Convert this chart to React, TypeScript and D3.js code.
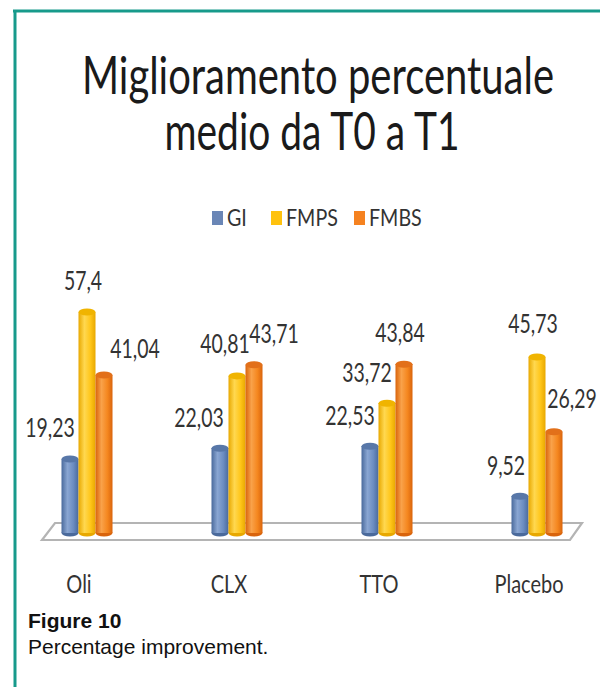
import React from 'react';
import * as d3 from 'd3';

const categories = ['Oli', 'CLX', 'TTO', 'Placebo'];
const series = ['GI', 'FMPS', 'FMBS'];
const giValues = [19.23, 22.03, 22.53, 9.52];
const fmpsValues = [57.4, 40.81, 33.72, 45.73];
const fmbsValues = [41.04, 43.71, 43.84, 26.29];
const valueLabels = [
  ['19,23', '22,03', '22,53', '9,52'],
  ['57,4', '40,81', '33,72', '45,73'],
  ['41,04', '43,71', '43,84', '26,29'],
];

// layout nudges for the value labels (manual placement in the original)
const labelDx = [
  [-20, -21, -20, -14],
  [-4, -12, -20, -4],
  [31, 20, -4, 18],
];
const labelDy = [
  [-22, -21, -21, -21],
  [-22, -23, -21, -24],
  [-17, -22, -22, -24],
];

const colors = {
  GI: { dark: '#4a6a9c', mid: '#6b8cc1', light: '#8aa6d2', top: '#5877a8', legend: '#6a86b6' },
  FMPS: { dark: '#e8a800', mid: '#ffc61a', light: '#ffd850', top: '#f0b400', legend: '#ffc20e' },
  FMBS: { dark: '#d9640c', mid: '#f5871f', light: '#f9a24a', top: '#e2701a', legend: '#f58220' },
};

const W = 600;
const H = 687;
const teal = '#179a8b';
const font = "Lato, 'Open Sans', sans-serif";

// text squeezed horizontally round its anchor (the original picture is squeezed sideways)
function SqText(props: { x: number; y: number; size: number; sx?: number; anchor?: string; children: React.ReactNode }) {
  const { x, y, size, sx = 0.75, anchor = 'middle', children } = props;
  return (
    <text
      transform={`translate(${x},${y}) scale(${sx},1)`}
      fontSize={size}
      textAnchor={anchor}
    >
      {children}
    </text>
  );
}

export default function App() {
  const values = [giValues, fmpsValues, fmbsValues];
  const baseY = 533;

  const x = d3.scaleBand<string>().domain(categories).range([12, 612]);
  const xs = d3.scaleBand<string>().domain(series).range([-25.5, 25.5]);
  const y = d3.scaleLinear().domain([0, 60]).range([baseY, baseY - 60 * 3.85]);

  const bw = xs.bandwidth();
  const ry = 3.5;
  const center = (c: string) => (x(c) ?? 0) + x.bandwidth() / 2;

  const floor = d3.line()([
    [55, 523],
    [582, 523],
    [570, 540],
    [42, 540],
  ]) + 'Z';

  const legendItems = [
    { s: 'GI', x: 212 },
    { s: 'FMPS', x: 271 },
    { s: 'FMBS', x: 354 },
  ];

  return (
    <div style={{ position: 'absolute', left: 0, top: 0 }}>
      <svg width={W} height={H} style={{ display: 'block', background: '#fff' }}>
        <defs>
          {series.map((s) => {
            const c = colors[s as keyof typeof colors];
            return (
              <linearGradient key={s} id={'grad-' + s} x1="0" x2="1" y1="0" y2="0">
                <stop offset="0%" stopColor={c.dark} />
                <stop offset="35%" stopColor={c.light} />
                <stop offset="70%" stopColor={c.mid} />
                <stop offset="100%" stopColor={c.dark} />
              </linearGradient>
            );
          })}
        </defs>

        {/* frame */}
        <line x1={13} x2={W} y1={11} y2={11} stroke={teal} strokeWidth={3} />
        <line x1={15} x2={15} y1={10} y2={H} stroke={teal} strokeWidth={3} />

        {/* title */}
        <g fontFamily={font} fill="#1a1a1a" textAnchor="middle">
          <text x={318} y={94} fontSize={53} textLength={472} lengthAdjust="spacingAndGlyphs">
            Miglioramento percentuale
          </text>
          <text x={312} y={150} fontSize={53} textLength={295} lengthAdjust="spacingAndGlyphs">
            medio da T0 a T1
          </text>
        </g>

        {/* legend */}
        <g fontFamily={font} fill="#333">
          {legendItems.map((d) => (
            <g key={d.s}>
              <rect x={d.x} y={211} width={11} height={14} fill={colors[d.s as keyof typeof colors].legend} />
              <SqText x={d.x + 15} y={226} size={24} sx={0.82} anchor="start">{d.s}</SqText>
            </g>
          ))}
        </g>

        {/* floor */}
        <path d={floor} fill="#fff" stroke="#b4b4b4" strokeWidth={2.2} />

        {/* bars */}
        {categories.map((cat, ci) => (
          <g key={cat} transform={`translate(${center(cat)},0)`}>
            {series.map((s, si) => {
              const c = colors[s as keyof typeof colors];
              const v = values[si][ci];
              const x0 = xs(s) ?? 0;
              const top = y(v);
              return (
                <g key={s}>
                  <ellipse cx={x0 + bw / 2} cy={baseY} rx={bw / 2} ry={ry} fill={c.dark} />
                  <rect x={x0} y={top} width={bw} height={baseY - top} fill={`url(#grad-${s})`} />
                  <ellipse cx={x0 + bw / 2} cy={top} rx={bw / 2} ry={ry} fill={c.top} />
                </g>
              );
            })}
          </g>
        ))}

        {/* value labels */}
        <g fontFamily={font} fill="#333">
          {categories.map((cat, ci) =>
            series.map((s, si) => {
              const cx = center(cat) + (xs(s) ?? 0) + bw / 2;
              return (
                <SqText
                  key={cat + s}
                  x={cx + labelDx[si][ci]}
                  y={y(values[si][ci]) + labelDy[si][ci]}
                  size={27}
                  sx={0.72}
                >
                  {valueLabels[si][ci]}
                </SqText>
              );
            })
          )}
        </g>

        {/* category labels */}
        <g fontFamily={font} fill="#333">
          {categories.map((cat) => (
            <SqText key={cat} x={center(cat) - 8} y={593} size={25} sx={0.8}>
              {cat}
            </SqText>
          ))}
        </g>

        {/* caption */}
        <g fontFamily="'Liberation Sans', Arial, sans-serif" fill="#111">
          <text x={28} y={628} fontSize={21} fontWeight="bold">
            Figure 10
          </text>
          <text x={28} y={654} fontSize={21}>
            Percentage improvement.
          </text>
        </g>
      </svg>
    </div>
  );
}
